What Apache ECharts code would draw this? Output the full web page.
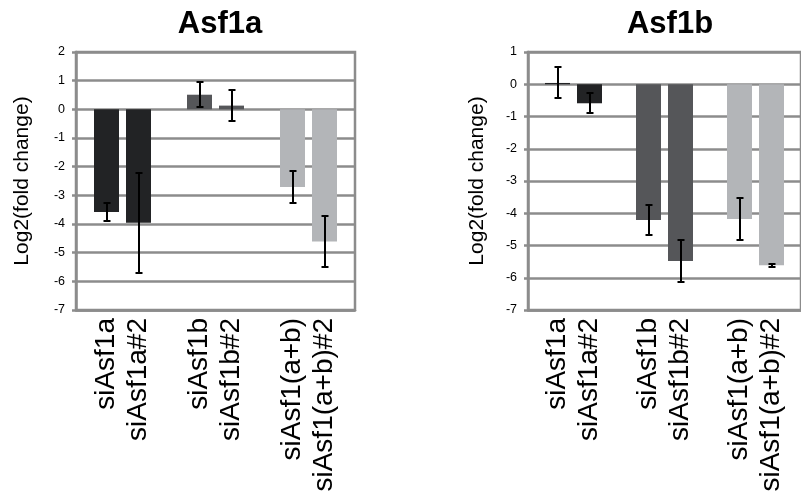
<!DOCTYPE html>
<html>
<head>
<meta charset="utf-8">
<script src="https://cdn.jsdelivr.net/npm/echarts@6/dist/echarts.min.js"></script>
<style>
html,body{margin:0;padding:0;background:#fff;}
#chart{width:801px;height:501px;}
</style>
</head>
<body>
<div id="chart"></div>
<script>
// ---- data ----
var categories = ['siAsf1a', 'siAsf1a#2', 'siAsf1b', 'siAsf1b#2', 'siAsf1(a+b)', 'siAsf1(a+b)#2'];
var asf1aValues = [-3.58, -3.96, 0.51, 0.13, -2.71, -4.61];
var asf1aErrors = [0.33, 1.75, 0.44, 0.55, 0.57, 0.89];
var asf1bValues = [0.04, -0.59, -4.21, -5.48, -4.18, -5.61];
var asf1bErrors = [0.48, 0.31, 0.47, 0.66, 0.65, 0.05];
var barColors = ['#222325', '#222325', '#555659', '#555659', '#b3b5b8', '#b3b5b8'];
var asf1aTicks = [-7, 2];
var asf1bTicks = [-7, 1];
var titles = ['Asf1a', 'Asf1b'];
var yName = 'Log2(fold change)';

// ---- style ----
var FONT = 'Liberation Sans, Arial, Helvetica, sans-serif';
var GRAY = '#8c8c8c';
var BAR_W = 25, BAR_GAP = 0.28;

// group pairs: 3 clusters, each with two bars
var groupLabels = [];
for (var g = 0; g < 3; g++) groupLabels.push(categories[2 * g] + '\n' + categories[2 * g + 1]);

function pairSeries(values, idx, side) {
  var d = [];
  for (var g = 0; g < 3; g++) {
    var k = 2 * g + side;
    d.push({ value: values[k], itemStyle: { color: barColors[k] } });
  }
  return {
    type: 'bar', xAxisIndex: idx, yAxisIndex: idx,
    barWidth: BAR_W, barGap: (BAR_GAP * 100) + '%',
    data: d, silent: true
  };
}

function errSeries(values, errs, idx) {
  var d = [];
  for (var k = 0; k < values.length; k++) {
    d.push([Math.floor(k / 2), values[k], errs[k], k % 2 === 0 ? -1 : 1]);
  }
  return {
    type: 'custom', xAxisIndex: idx, yAxisIndex: idx, z: 5, silent: true,
    data: d,
    renderItem: function (params, api) {
      var cat = api.value(0), v = api.value(1), e = api.value(2), side = api.value(3);
      var c = api.coord([cat, v]);
      var hi = api.coord([cat, v + e]);
      var lo = api.coord([cat, v - e]);
      var x = Math.round(c[0] + side * (BAR_W + BAR_W * BAR_GAP) / 2);
      var yh = Math.round(hi[1]), yl = Math.round(lo[1]);
      var cap = 3.5;
      var st = { stroke: '#000', lineWidth: 2 };
      return {
        type: 'group',
        children: [
          { type: 'line', shape: { x1: x, y1: yh, x2: x, y2: yl }, style: st },
          { type: 'line', shape: { x1: x - cap, y1: yh, x2: x + cap, y2: yh }, style: st },
          { type: 'line', shape: { x1: x - cap, y1: yl, x2: x + cap, y2: yl }, style: st }
        ]
      };
    }
  };
}

function xAxis(idx) {
  return {
    type: 'category', gridIndex: idx, data: groupLabels,
    axisLine: { onZero: false, show: true, lineStyle: { color: GRAY, width: 2.5 } },
    axisTick: { show: false },
    axisLabel: {
      rotate: 90, margin: 8, interval: 0, fontFamily: FONT, fontSize: 28,
      lineHeight: 32, color: '#000', align: 'right'
    }
  };
}

function yAxis(idx, ticks, gap) {
  return {
    type: 'value', gridIndex: idx, min: ticks[0], max: ticks[1], interval: 1,
    name: yName, nameLocation: 'middle', nameGap: gap, nameRotate: 90,
    nameTextStyle: { fontFamily: FONT, fontSize: 21, color: '#000' },
    axisLine: { show: true, lineStyle: { color: GRAY, width: 2.5 } },
    axisTick: { show: true, length: 4, lineStyle: { color: GRAY, width: 2.5 } },
    axisLabel: { margin: 11, fontFamily: FONT, fontSize: 12.5, color: '#000' },
    splitLine: { show: true, lineStyle: { color: GRAY, width: 2.5 } }
  };
}

var chart = echarts.init(document.getElementById('chart'), null, { renderer: 'canvas' });
chart.setOption({
  animation: false,
  backgroundColor: '#fff',
  title: [
    { text: titles[0], left: 215, top: 4, textAlign: 'center',
      textStyle: { fontFamily: FONT, fontSize: 31, fontWeight: 'bold', color: '#000' } },
    { text: titles[1], left: 665, top: 4, textAlign: 'center',
      textStyle: { fontFamily: FONT, fontSize: 31, fontWeight: 'bold', color: '#000' } }
  ],
  grid: [
    { left: 76, top: 52, width: 279, height: 258, show: true, borderColor: GRAY, borderWidth: 2.5 },
    { left: 528, top: 52, width: 279, height: 258, show: true, borderColor: GRAY, borderWidth: 2.5 }
  ],
  xAxis: [xAxis(0), xAxis(1)],
  yAxis: [yAxis(0, asf1aTicks, 43), yAxis(1, asf1bTicks, 40)],
  series: [
    pairSeries(asf1aValues, 0, 0), pairSeries(asf1aValues, 0, 1),
    pairSeries(asf1bValues, 1, 0), pairSeries(asf1bValues, 1, 1),
    errSeries(asf1aValues, asf1aErrors, 0),
    errSeries(asf1bValues, asf1bErrors, 1)
  ]
});
</script>
</body>
</html>
